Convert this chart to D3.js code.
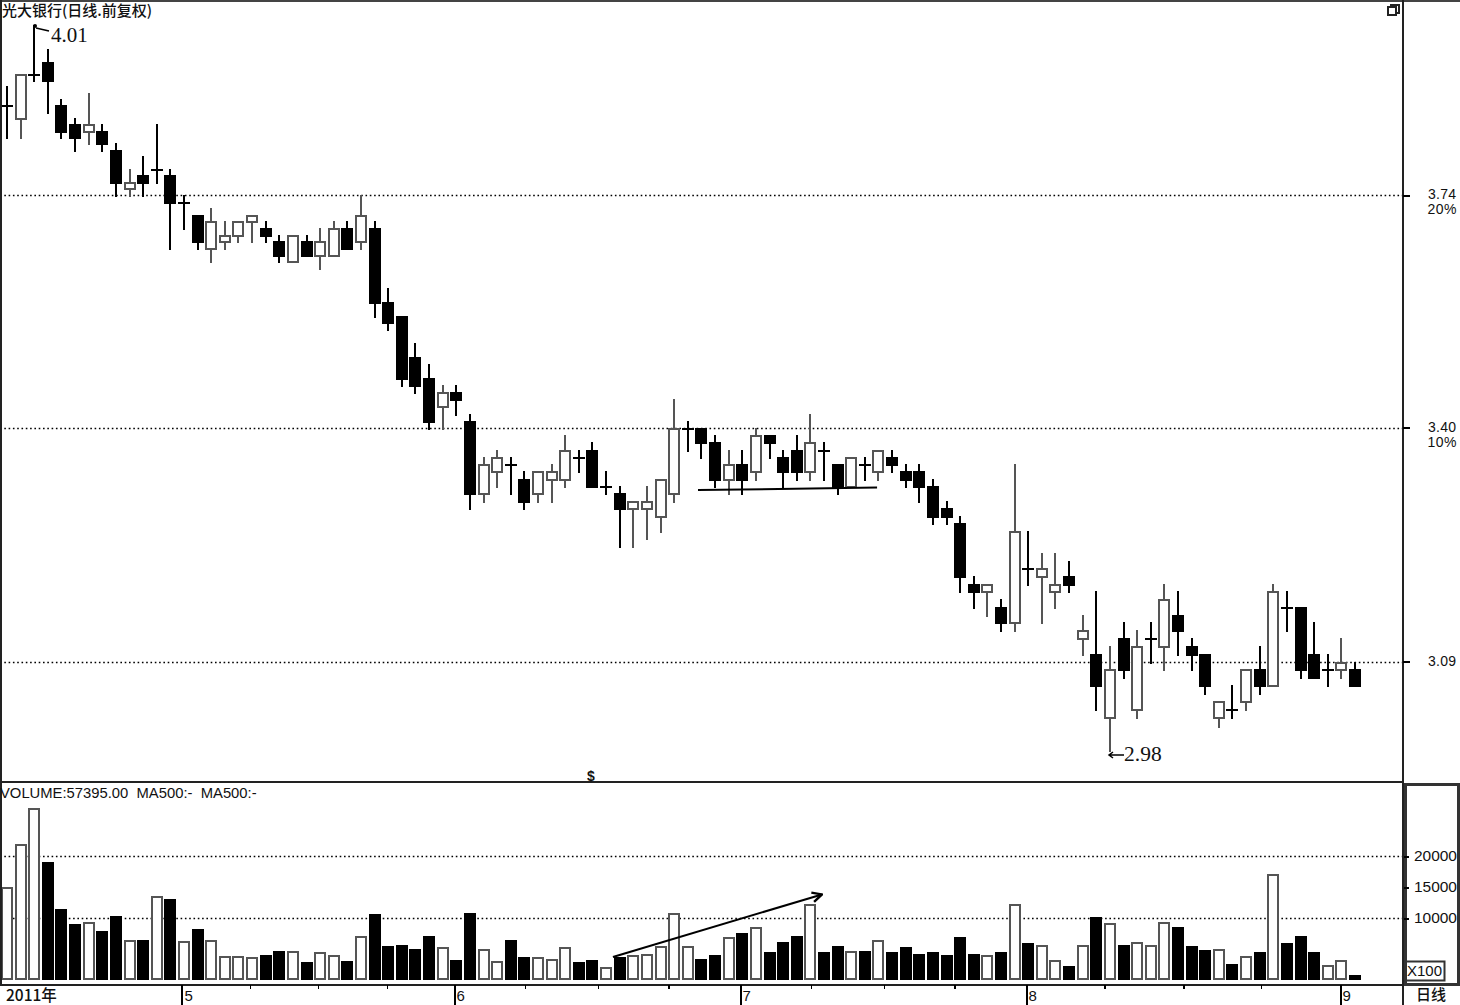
<!DOCTYPE html>
<html><head><meta charset="utf-8">
<style>html,body{margin:0;padding:0;background:#fff;overflow:hidden}svg{display:block}
text{fill:#111}
.sans{font-family:"Liberation Sans",Arial,sans-serif}
.cjk{font-family:"Noto Sans CJK SC","Liberation Sans",sans-serif}
.serif{font-family:"Liberation Serif",serif}
</style>
<script src="https://cdn.jsdelivr.net/npm/d3@7/dist/d3.min.js"></script>
</head><body><svg id="c" width="1460" height="1005"></svg>
<script>
const titleText = "光大银行(日线.前复权)";
const volumeLabel = "VOLUME:57395.00  MA500:-  MA500:-";
const candleHigh = [3.91,3.93,4.01,3.97,3.89,3.86,3.90,3.85,3.82,3.78,3.80,3.85,3.78,3.74,3.71,3.72,3.70,3.70,3.71,3.70,
3.68,3.68,3.68,3.69,3.70,3.70,3.74,3.70,3.60,3.56,3.52,3.49,3.46,3.46,3.42,3.36,3.37,3.36,3.34,3.34,
3.35,3.39,3.37,3.38,3.34,3.32,3.30,3.32,3.33,3.44,3.41,3.40,3.39,3.37,3.37,3.40,3.39,3.37,3.39,3.42,
3.38,3.35,3.36,3.36,3.37,3.37,3.35,3.35,3.33,3.30,3.28,3.20,3.19,3.17,3.35,3.26,3.23,3.23,3.22,3.15,
3.18,3.11,3.14,3.13,3.14,3.19,3.18,3.12,3.10,3.04,3.06,3.08,3.11,3.19,3.18,3.16,3.14,3.10,3.12,3.09];
const bodyTop = [3.88,3.93,3.93,3.95,3.88,3.85,3.85,3.84,3.81,3.76,3.77,3.78,3.77,3.73,3.71,3.70,3.68,3.70,3.71,3.69,
3.67,3.68,3.67,3.67,3.69,3.69,3.71,3.69,3.58,3.56,3.50,3.47,3.45,3.45,3.41,3.35,3.36,3.35,3.33,3.34,
3.34,3.37,3.36,3.37,3.32,3.31,3.30,3.30,3.33,3.40,3.40,3.40,3.38,3.35,3.35,3.39,3.39,3.36,3.37,3.38,
3.37,3.35,3.36,3.35,3.37,3.36,3.34,3.34,3.32,3.29,3.27,3.19,3.19,3.16,3.26,3.21,3.21,3.19,3.20,3.13,
3.10,3.08,3.12,3.11,3.12,3.17,3.15,3.11,3.10,3.04,3.03,3.08,3.08,3.18,3.16,3.16,3.10,3.08,3.09,3.08];
const bodyBottom = [3.88,3.86,3.93,3.92,3.84,3.83,3.84,3.82,3.76,3.75,3.76,3.78,3.73,3.73,3.67,3.66,3.67,3.68,3.70,3.68,
3.65,3.64,3.65,3.65,3.65,3.66,3.67,3.58,3.55,3.47,3.46,3.41,3.43,3.44,3.31,3.31,3.34,3.35,3.30,3.31,
3.33,3.33,3.36,3.32,3.32,3.29,3.29,3.29,3.28,3.31,3.40,3.38,3.33,3.33,3.33,3.34,3.38,3.34,3.34,3.34,
3.37,3.32,3.32,3.35,3.34,3.35,3.33,3.32,3.28,3.28,3.20,3.18,3.18,3.14,3.14,3.21,3.20,3.18,3.19,3.12,
3.06,3.02,3.08,3.03,3.12,3.11,3.13,3.10,3.06,3.02,3.03,3.04,3.06,3.06,3.16,3.08,3.07,3.08,3.08,3.06];
const candleLow = [3.83,3.83,3.92,3.87,3.83,3.81,3.82,3.81,3.74,3.74,3.74,3.76,3.66,3.69,3.66,3.64,3.66,3.67,3.67,3.67,
3.64,3.64,3.65,3.63,3.65,3.66,3.66,3.56,3.54,3.46,3.45,3.40,3.40,3.42,3.29,3.30,3.32,3.31,3.29,3.30,
3.30,3.32,3.34,3.32,3.31,3.24,3.24,3.25,3.26,3.30,3.37,3.36,3.32,3.31,3.31,3.33,3.36,3.32,3.33,3.33,
3.33,3.31,3.32,3.33,3.33,3.34,3.32,3.30,3.27,3.27,3.18,3.16,3.15,3.13,3.13,3.19,3.14,3.16,3.18,3.10,
3.03,2.98,3.07,3.02,3.09,3.08,3.10,3.08,3.05,3.01,3.02,3.03,3.05,3.06,3.13,3.07,3.07,3.06,3.07,3.06];
const candleTone = "kwkkkkwkkwkkkkkwwwwk"+"kwkwwkwkkkkkwkkwwkkw"+"wwkkkkwwwwkkkwkwkkkw"+"kkwkwkkkkkkkwkwkwwkw"+"kwkwkwkkkwkwkwkkkkwk";
const volumes = [15050,21930,27690,19085,11500,9030,9300,7960,10380,6450,6500,13490,13120,6290,8230,6450,3870,3870,3660,4090,
4730,4680,2900,4460,4030,3120,7100,10640,5540,5700,5050,7150,5270,3230,10800,5000,3120,6450,3710,3660,
3330,5270,2900,3230,2150,3710,4030,4190,5480,10750,5430,3440,4090,6880,7530,8490,4520,6130,7100,12200,
4520,5480,4620,4680,6400,4520,5320,4250,4520,4090,6990,4250,4030,4520,12200,5970,5590,3170,2260,5590,
10210,9140,5700,6070,5590,9300,8600,5480,4840,4950,2630,3870,4520,17040,5970,7100,4520,2420,3170,860];
const volumeTone = "wwwkkkwkkwkwkwkwwwwk"+"kwkwwkwkkkkkwkkwwkkw"+"wwkkwkwwwwwkkwkwkkkw"+"kkwkwkkkkkkkwkwkwwkw"+"kwkwwwkkkwkwkwkkkwwk";
const priceTicks = [3.74,3.40,3.09];
const percentLabels = ["20%","10%",""];
const volumeTicks = [20000,15000,10000];
const volumeGrid = [20000,10000];
const monthLabels = ["5","6","7","8","9"];
const monthTicks = [12.85,32.83,53.84,74.84,97.9];
const minorTicks = [17.85,22.84,27.9,38.04,43.4,48.6,59.05,64.4,69.6,80.6,86.4,92.1];
const supportLine = [[50.75,3.3145],[63.9,3.318]];
const volumeArrow = [[44.5,3710],[59.85,13800]];

const W=1460,H=1005,axisX=1403,midY=782,timeY=985;
const svg=d3.select("#c");
const x=d3.scaleLinear().domain([0,99]).range([7,1355]);
const y=d3.scaleLog().domain([3.09,3.74]).range([661.5,195]);
const v=d3.scaleLinear().domain([0,20000]).range([980,856]);
const px=i=>Math.round(x(i));
const py=p=>Math.round(y(p));
const ink="#000",soft="#555",frame="#222";
const idx=d3.range(candleHigh.length);

// dotted grid
const grid=svg.append("g").attr("stroke","#000").attr("stroke-width",1.3).attr("stroke-dasharray","1.6,2.7");
grid.selectAll("line.p").data(priceTicks).join("line").attr("class","p")
 .attr("x1",0).attr("x2",axisX).attr("y1",d=>py(d)+.5).attr("y2",d=>py(d)+.5);
grid.selectAll("line.v").data(volumeGrid).join("line").attr("class","v")
 .attr("x1",0).attr("x2",axisX).attr("y1",d=>Math.round(v(d))+.5).attr("y2",d=>Math.round(v(d))+.5);

// candles
const cg=svg.append("g").attr("shape-rendering","crispEdges");
const col=i=>candleTone[i]==="k"?ink:soft;
const isK=i=>candleTone[i]==="k";
cg.selectAll("line.w").data(idx).join("line").attr("class","w")
 .attr("x1",px).attr("x2",px).attr("y1",i=>py(candleHigh[i])).attr("y2",i=>py(candleLow[i])+2)
 .attr("stroke",col).attr("stroke-width",2);
const solid=idx.filter(i=>bodyTop[i]!==bodyBottom[i]);
cg.selectAll("rect.b").data(solid).join("rect").attr("class","b")
 .attr("x",i=>px(i)-(isK(i)?6:5)).attr("width",i=>isK(i)?12:10)
 .attr("y",i=>py(bodyTop[i])+(isK(i)?0:1))
 .attr("height",i=>py(bodyBottom[i])-py(bodyTop[i])+(isK(i)?2:0))
 .attr("fill",i=>isK(i)?ink:"#fff")
 .attr("stroke",i=>isK(i)?"none":soft).attr("stroke-width",2);
const flat=idx.filter(i=>bodyTop[i]===bodyBottom[i]);
cg.selectAll("line.d").data(flat).join("line").attr("class","d")
 .attr("x1",i=>px(i)-6).attr("x2",i=>px(i)+6).attr("y1",i=>py(bodyTop[i])+1).attr("y2",i=>py(bodyTop[i])+1)
 .attr("stroke",ink).attr("stroke-width",2);

// volume bars
const vg=svg.append("g").attr("shape-rendering","crispEdges");
const isVK=i=>volumeTone[i]==="k";
vg.selectAll("rect").data(idx).join("rect")
 .attr("x",i=>px(i)-(isVK(i)?6:5)).attr("width",i=>isVK(i)?12:10)
 .attr("y",i=>Math.round(v(volumes[i]))+(isVK(i)?0:1))
 .attr("height",i=>Math.round(v(0))-Math.round(v(volumes[i]))-(isVK(i)?0:2))
 .attr("fill",i=>isVK(i)?ink:"#fff")
 .attr("stroke",i=>isVK(i)?"none":soft).attr("stroke-width",2);

// annotations
svg.append("defs").append("marker").attr("id","ah").attr("viewBox","0 0 10 10").attr("refX",9).attr("refY",5)
 .attr("markerWidth",12).attr("markerHeight",12).attr("markerUnits","userSpaceOnUse").attr("orient","auto")
 .append("path").attr("d","M1,1L9,5L1,9").attr("fill","none").attr("stroke",ink).attr("stroke-width",2);
svg.append("path").attr("d",d3.line(d=>x(d[0]),d=>y(d[1]))(supportLine)).attr("stroke",ink).attr("stroke-width",2).attr("fill","none");
svg.append("path").attr("d",d3.line(d=>x(d[0]),d=>v(d[1]))(volumeArrow)).attr("stroke",ink).attr("stroke-width",2).attr("fill","none").attr("marker-end","url(#ah)");

const hiI=d3.maxIndex(candleHigh),loI=d3.minIndex(candleLow);
svg.append("circle").attr("cx",px(hiI)+1).attr("cy",py(candleHigh[hiI])+1).attr("r",2).attr("fill",ink);
svg.append("path").attr("d",`M${px(hiI)+2},${py(candleHigh[hiI])+3}L${px(hiI)+15},${py(candleHigh[hiI])+6}`).attr("stroke",ink).attr("stroke-width",1.4);
svg.append("text").attr("class","serif").attr("x",px(hiI)+17).attr("y",py(candleHigh[hiI])+17).attr("font-size",21).text(d3.format(".2f")(candleHigh[hiI]));
const lx=px(loI), ly=py(candleLow[loI])+5;
svg.append("path").attr("d",`M${lx-1},${ly}L${lx+14},${ly}M${lx+3},${ly-3}L${lx-1},${ly}L${lx+3},${ly+3}`).attr("fill","none").attr("stroke",ink).attr("stroke-width",1.5);
svg.append("text").attr("class","serif").attr("x",lx+14).attr("y",py(candleLow[loI])+11).attr("font-size",21.5).text(d3.format(".2f")(candleLow[loI]));

// frame lines
const fr=svg.append("g").attr("stroke",frame).attr("shape-rendering","crispEdges");
fr.append("line").attr("x1",0).attr("x2",W).attr("y1",1).attr("y2",1).attr("stroke-width",2).attr("stroke","#444");
fr.append("line").attr("x1",1).attr("x2",1).attr("y1",0).attr("y2",timeY).attr("stroke-width",1.5);
fr.append("line").attr("x1",axisX).attr("x2",axisX).attr("y1",0).attr("y2",H).attr("stroke-width",2);
fr.append("line").attr("x1",0).attr("x2",axisX).attr("y1",midY).attr("y2",midY).attr("stroke-width",2);
fr.append("line").attr("x1",0).attr("x2",axisX).attr("y1",timeY).attr("y2",timeY).attr("stroke-width",2);
svg.append("rect").attr("x",1405).attr("y",784).attr("width",53).attr("height",200).attr("fill","none").attr("stroke","#333").attr("stroke-width",3).attr("shape-rendering","crispEdges");

// price axis
const pa=svg.append("g").attr("transform",`translate(${axisX},0)`).call(d3.axisRight(y).tickValues(priceTicks).tickSize(7).tickFormat(d3.format(".2f")));
pa.select(".domain").remove();
pa.selectAll("line").attr("stroke",ink).attr("stroke-width",2).attr("shape-rendering","crispEdges");
pa.selectAll("text").attr("class","sans").attr("x",25).attr("font-size",14).attr("letter-spacing",0.3).attr("font-weight",400).attr("fill","#111").attr("dy","0.25em");
svg.selectAll("text.pct").data(percentLabels.filter(d=>d)).join("text").attr("class","pct sans")
 .attr("x",1457).attr("text-anchor","end").attr("y",(d,i)=>py(priceTicks[i])+19).attr("font-size",14).attr("letter-spacing",0.5).text(d=>d);

// volume axis
const va=svg.append("g").attr("transform",`translate(1404,0)`).call(d3.axisRight(v).tickValues(volumeTicks).tickSize(5).tickFormat(d3.format("d")));
va.select(".domain").remove();
va.selectAll("line").attr("stroke",ink).attr("stroke-width",2).attr("shape-rendering","crispEdges");
va.selectAll("text").attr("class","sans").attr("x",53).attr("text-anchor","end").attr("font-size",15.5).attr("fill","#111").attr("dy","0.3em");

// time axis
const ta=svg.append("g").attr("transform",`translate(0,${timeY})`).call(d3.axisBottom(x).tickValues(minorTicks).tickSize(4).tickFormat(""));
ta.select(".domain").remove();
ta.selectAll("line").attr("stroke",ink).attr("stroke-width",1.5).attr("shape-rendering","crispEdges");
const ma=svg.append("g").attr("transform",`translate(0,${timeY})`).call(d3.axisBottom(x).tickValues(monthTicks).tickSize(20).tickFormat((d,i)=>monthLabels[i]));
ma.select(".domain").remove();
ma.selectAll("line").attr("stroke",ink).attr("stroke-width",2).attr("shape-rendering","crispEdges");
ma.selectAll("text").attr("class","sans").attr("x",2).attr("y",5).attr("text-anchor","start").attr("font-size",15).attr("fill","#111").attr("dy","0.71em");
svg.append("text").attr("class","cjk").attr("x",6).attr("y",1001).attr("font-size",15.5).attr("font-weight",500).text("2011年");
svg.append("text").attr("class","cjk").attr("x",1416).attr("y",1000).attr("font-size",15).attr("font-weight",500).text("日线");

// labels
svg.append("text").attr("class","cjk").attr("x",2).attr("y",16).attr("font-size",15).attr("font-weight",500).text(titleText);
svg.append("text").attr("class","sans").attr("x",0).attr("y",798).attr("font-size",14.8).style("white-space","pre").text(volumeLabel);
svg.append("text").attr("class","sans").attr("x",1407).attr("y",976).attr("font-size",15).text("X100");
svg.append("rect").attr("x",1405.5).attr("y",961.5).attr("width",39).attr("height",19).attr("fill","none").attr("stroke","#333").attr("stroke-width",2);
svg.append("text").attr("class","sans").attr("x",591).attr("y",781).attr("text-anchor","middle").attr("font-size",14).attr("font-weight",700).text("$");
// window restore icon
const ic=svg.append("g").attr("fill","#fff").attr("stroke","#222").attr("stroke-width",1.5).attr("shape-rendering","crispEdges");
ic.append("rect").attr("x",1391).attr("y",5).attr("width",8).attr("height",8);
ic.append("rect").attr("x",1388).attr("y",7).attr("width",8).attr("height",8);
</script></body></html>
